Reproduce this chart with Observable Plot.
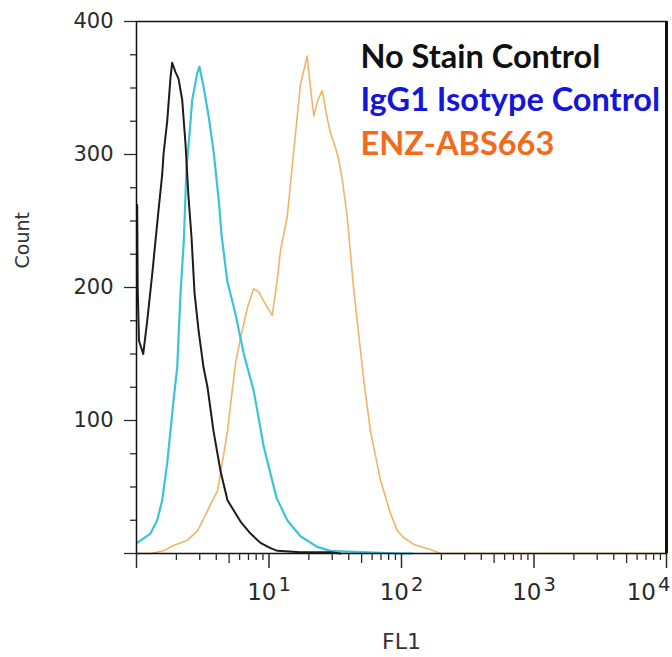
<!DOCTYPE html>
<html><head><meta charset="utf-8">
<script src="https://cdn.jsdelivr.net/npm/d3@7"></script>
<script src="https://cdn.jsdelivr.net/npm/@observablehq/plot@0.6"></script>
<style>body{margin:0;background:#fff;}</style>
</head><body><div id="chart"></div>
<script>
// No Stain Control (black)
const noStainFL1 = [1.012,1.021,1.044,1.124,1.205,1.314,1.391,1.466,1.563,1.599,1.705,1.806,1.859,1.969,2.075,2.213,2.343,2.469,2.601,2.741,2.938,3.204,3.435,3.813,4.305,4.862,6.095,7.252,8.627,10.26,11.59,17.29,29.12,34.64];
const noStainCount = [262,200,160,150,175,210,235,258,285,300,325,358,369,362,357,341,308,268,238,196,168,140,125,92,62,40,24,15,8,4,2,1,1,0];
// IgG1 Isotype Control (cyan)
const isotypeFL1 = [1.012,1.275,1.433,1.563,1.705,1.912,2.029,2.148,2.275,2.385,2.512,2.633,2.871,2.988,3.220,3.513,3.832,4.180,4.380,4.836,5.588,6.454,7.680,9.137,11.39,13.72,17.29,23.11,29.12,49.06,98.28,120];
const isotypeCount = [8,15,25,40,68,117,140,195,235,290,315,341,361,366,350,328,301,265,240,205,180,150,122,80,42,25,13,5,2,1,0,0];
// ENZ-ABS663 (orange)
const enzFL1 = [1,1.275,1.599,1.902,2.426,2.886,3.317,3.747,4.087,4.305,4.862,5.212,5.588,6.095,6.882,7.638,8.334,9.089,10.57,11.53,12.21,13.72,15.39,17.29,19.42,20.57,21.79,23.23,25.20,27.16,29.12,31.76,33.64,35.87,38.93,43.65,46.32,51.94,58.34,69.41,82.60,93.28,103.5,123.2,139.1,165.5,197.0,10000];
const enzCount = [0,0,2,6,10,17,29,40,47,60,92,118,143,162,185,199,197,190,179,205,228,253,303,353,374,350,329,340,348,330,316,305,296,280,253,198,175,130,92,55,30,17,12,7,5,3,0,0];

const seriesNames = ["No Stain Control","IgG1 Isotype Control","ENZ-ABS663"];
const lineColors = ["#1c1c1c","#3cc3d8","#f0b468"];
const legendColors = ["#111111","#1616d8","#f26a1b"];

const yTickValues = [0,100,200,300,400];
const yMinorTicks = [25,50,75,125,150,175,225,250,275,325,350,375];
const xMajorTicks = [1,10,100,1000,10000];
const xMidTicks = [5,50,500,5000];
const xMinorTicks = [2,3,4,6,7,8,9,20,30,40,60,70,80,90,200,300,400,600,700,800,900,2000,3000,4000,6000,7000,8000,9000];
const xLabelTicks = [10,100,1000,10000];
const xTickLabels = ["10^1","10^2","10^3","10^4"];

const toRows = (xs, ys) => xs.map((v, i) => ({fl1: v, count: ys[i]}));
const rowsBlack = toRows(noStainFL1, noStainCount);
const rowsCyan = toRows(isotypeFL1, isotypeCount);
const rowsOrange = toRows(enzFL1, enzCount);

const labelFmt = d => xTickLabels[xLabelTicks.indexOf(d)];

const legendMarks = seriesNames.map((name, i) =>
  Plot.text([name], {frameAnchor: "top-left", text: d => d, dx: 224, dy: 36 + i * 43.5,
    textAnchor: "start", lineAnchor: "middle", fill: legendColors[i], fontWeight: "bold",
    fontSize: 32.5, fontFamily: "Lato"}));

const chart = Plot.plot({
  width: 672, height: 657,
  marginLeft: 136, marginRight: 6, marginTop: 21, marginBottom: 104,
  x: {type: "log", domain: [1, 10000]},
  y: {domain: [0, 400]},
  style: {fontFamily: "DejaVu Sans", background: "white", color: "#2a2a2a"},
  marks: [
    Plot.line(rowsOrange, {x: "fl1", y: "count", stroke: lineColors[2], strokeWidth: 1.6}),
    Plot.line(rowsCyan, {x: "fl1", y: "count", stroke: lineColors[1], strokeWidth: 2.2}),
    Plot.line(rowsBlack, {x: "fl1", y: "count", stroke: lineColors[0], strokeWidth: 2}),
    Plot.frame({stroke: "#111", strokeWidth: 1.5}),
    Plot.ruleX([10000], {stroke: "#111", strokeWidth: 3}),
    Plot.axisY(yMinorTicks, {tickSize: 6, text: null, label: null, strokeWidth: 1.3}),
    Plot.axisY(yTickValues, {tickSize: 12, tickPadding: 11, tickFormat: d => d === 0 ? "" : String(d), fontSize: 21, label: null, strokeWidth: 1.3}),
    Plot.axisX(xMajorTicks, {tickSize: 15, text: null, label: null, strokeWidth: 1.5}),
    Plot.axisX(xMidTicks, {tickSize: 10, text: null, label: null, strokeWidth: 1.3}),
    Plot.axisX(xMinorTicks, {tickSize: 7, text: null, label: null, strokeWidth: 1.3}),
    Plot.axisX(xLabelTicks.slice(0, 3), {tickSize: 0, tickPadding: 30, tickFormat: labelFmt, fontSize: 23, label: null}),
    Plot.axisX(xLabelTicks.slice(3), {tickSize: 0, tickPadding: 30, tickFormat: labelFmt, fontSize: 23, label: null, dx: -18}),
    Plot.text(["Count"], {frameAnchor: "left", text: d => d, rotate: -90, dx: -114, dy: -19, fontSize: 19, lineAnchor: "middle", fill: "#333"}),
    Plot.text(["FL1"], {frameAnchor: "bottom", text: d => d, dy: 88, fontSize: 22, lineAnchor: "middle", fill: "#333"}),
    ...legendMarks
  ]
});

chart.querySelectorAll('g[aria-label="x-axis tick label"] text').forEach(t => {
  const s = t.textContent;
  if (!s.includes("^")) return;
  const [b, e] = s.split("^");
  t.textContent = "";
  const ns = "http://www.w3.org/2000/svg";
  const t1 = document.createElementNS(ns, "tspan"); t1.textContent = b; t.appendChild(t1);
  const t2 = document.createElementNS(ns, "tspan"); t2.textContent = e;
  t2.setAttribute("dy", "-0.45em"); t2.setAttribute("dx", "2"); t2.setAttribute("font-size", "0.85em");
  t.appendChild(t2);
});
document.getElementById("chart").appendChild(chart);
</script>
</body></html>
